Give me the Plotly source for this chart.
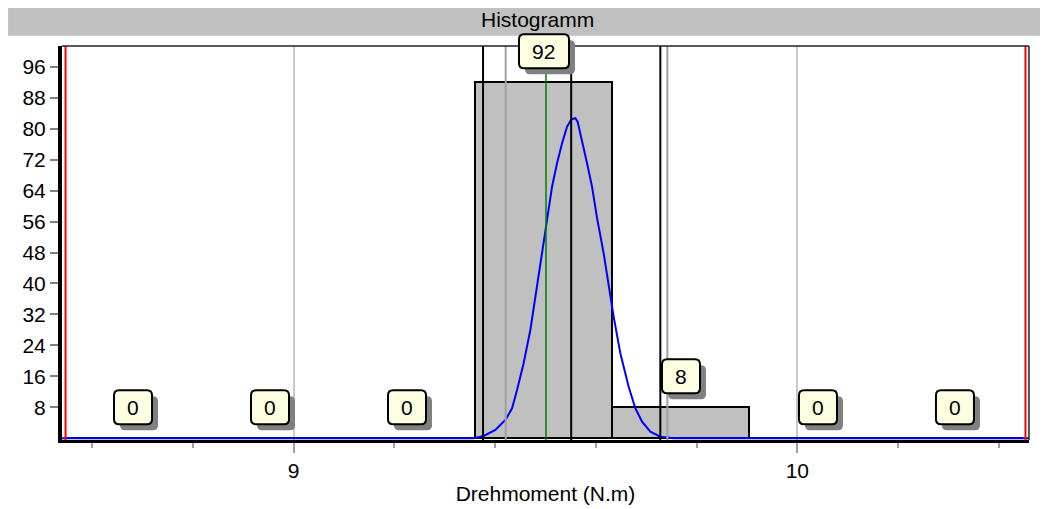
import plotly.graph_objects as go

# ---------------- data ----------------
title_text = "Histogramm"
x_title = "Drehmoment (N.m)"

bin_edges = [8.545, 8.817, 9.089, 9.361, 9.633, 9.905, 10.177, 10.449]
counts = [0, 0, 0, 92, 8, 0, 0]

y_tickvals = [8, 16, 24, 32, 40, 48, 56, 64, 72, 80, 88, 96]
x_tickvals = [9, 10]
x_ticktext = ["9", "10"]
x_minor_tickvals = [8.6, 8.8, 9.2, 9.4, 9.6, 9.8, 10.2, 10.4]

x_range = [8.54, 10.46]
y_range = [-0.44, 101.36]

# reference lines
spec_limits = [8.547, 10.453]          # red
sigma_lines = [9.376, 9.551, 9.728]    # black (mean and +/-3s)
control_lines = [9.421, 9.742]         # gray
target_line = 9.501                    # green

# fitted curve points
curve_x = [8.54, 9.3574, 9.3772, 9.4004, 9.4203, 9.4336, 9.4435, 9.4566, 9.4699,
           9.4832, 9.4932, 9.5031, 9.5130, 9.5229, 9.5329, 9.5428, 9.5513, 9.5593,
           9.5638, 9.5726, 9.5825, 9.5924, 9.6024, 9.6155, 9.6288, 9.6353, 9.6486,
           9.6651, 9.6784, 9.6917, 9.7082, 9.7281, 9.7544, 10.46]
curve_y = [0, 0, 0.59, 2.14, 4.73, 7.75, 12.48, 19.38, 27.98,
           39.17, 46.93, 56.41, 65.01, 71.06, 76.23, 80.52, 82.43, 82.69,
           81.81, 77.08, 71.06, 65.01, 56.9, 47.80, 36.59, 31.42, 21.96,
           13.33, 7.75, 4.29, 1.71, 0.41, 0, 0]

label_offset = 8
# ---------------------------------------------------------------

centers = [(bin_edges[i] + bin_edges[i + 1]) / 2 for i in range(len(counts))]
widths = [bin_edges[i + 1] - bin_edges[i] for i in range(len(counts))]

FONT = "Liberation Sans, Arial, sans-serif"
FS = 21


def to_paper_x(v):
    return (v - x_range[0]) / (x_range[1] - x_range[0])


def to_paper_y(v):
    return (v - y_range[0]) / (y_range[1] - y_range[0])


fig = go.Figure()
fig.add_trace(go.Bar(
    x=centers, y=counts, width=widths,
    marker=dict(color="#c0c0c0", line=dict(color="black", width=2)),
    hoverinfo="skip", showlegend=False,
))
fig.add_trace(go.Scatter(
    x=curve_x, y=curve_y, mode="lines",
    line=dict(color="#0000ff", width=2),
    hoverinfo="skip", showlegend=False,
))

shapes = []
def vline(x, color, width):
    shapes.append(dict(type="line", xref="x", yref="paper", x0=x, x1=x, y0=0, y1=1,
                       line=dict(color=color, width=width), layer="above"))

for v in control_lines:
    vline(v, "#a0a0a0", 2)
for v in sigma_lines:
    vline(v, "#000000", 2)
vline(target_line, "#008000", 1.5)
for v in spec_limits:
    vline(v, "#ff0000", 2)

# title bar
shapes.append(dict(type="rect", xref="paper", yref="paper",
                   x0=-0.0558, x1=1.0196, y0=1.0262, y1=1.11,
                   fillcolor="#c0c0c0", line=dict(width=0), layer="below"))
# top and right frame
shapes.append(dict(type="line", xref="paper", yref="paper", x0=0, x1=1, y0=1, y1=1,
                   line=dict(color="#222222", width=1.5), layer="above"))
shapes.append(dict(type="line", xref="paper", yref="paper", x0=1, x1=1, y0=0, y1=1,
                   line=dict(color="#222222", width=1.5), layer="above"))


def rounded_path(hw, hh, r, dx=0, dy=0):
    l, rr, b, t = -hw + dx, hw + dx, -hh + dy, hh + dy
    return (f"M {l + r},{b} L {rr - r},{b} Q {rr},{b} {rr},{b + r} "
            f"L {rr},{t - r} Q {rr},{t} {rr - r},{t} L {l + r},{t} "
            f"Q {l},{t} {l},{t - r} L {l},{b + r} Q {l},{b} {l + r},{b} Z")


annotations = []
for c, n in zip(centers, counts):
    txt = str(n)
    hw = (26 + 12 * len(txt)) / 2
    hh = 17
    common = dict(type="path", xref="paper", yref="paper", xsizemode="pixel", ysizemode="pixel",
                  xanchor=to_paper_x(c), yanchor=to_paper_y(n + label_offset), layer="above")
    shapes.append(dict(common, path=rounded_path(hw, hh, 5, 6, -6),
                       fillcolor="#808080", line=dict(width=0)))
    shapes.append(dict(common, path=rounded_path(hw, hh, 5),
                       fillcolor="#ffffe1", line=dict(color="black", width=2)))
    annotations.append(dict(x=c, y=n + label_offset, xref="x", yref="y", text=txt,
                            showarrow=False, font=dict(family=FONT, size=FS, color="black"),
                            xanchor="center", yanchor="middle"))

annotations.append(dict(x=0.4922, y=1.066, xref="paper", yref="paper", text=title_text,
                        showarrow=False, font=dict(family=FONT, size=FS, color="black"),
                        xanchor="center", yanchor="middle"))

fig.update_layout(
    width=1040, height=501,
    margin=dict(l=54, r=19, t=38, b=69, autoexpand=False),
    paper_bgcolor="white", plot_bgcolor="white",
    font=dict(family=FONT, size=FS, color="black"),
    bargap=0,
    shapes=shapes,
    annotations=annotations,
    xaxis=dict(
        range=x_range, tickmode="array", tickvals=x_tickvals, ticktext=x_ticktext,
        showgrid=True, gridcolor="#c8c8c8", gridwidth=2,
        ticks="outside", ticklen=10, tickcolor="#a0a0a0", tickwidth=1.5,
        showline=True, linecolor="black", linewidth=3,
        zeroline=False, automargin=False,
        tickfont=dict(family=FONT, size=FS, color="black"),
        title=dict(text=x_title, font=dict(family=FONT, size=FS, color="black"), standoff=6),
        minor=dict(tickvals=x_minor_tickvals, ticks="outside", ticklen=5,
                   tickcolor="#a0a0a0", tickwidth=1.5, showgrid=False),
    ),
    yaxis=dict(
        range=y_range, tickmode="array", tickvals=y_tickvals,
        showgrid=False, zeroline=False, automargin=False,
        ticks="outside", ticklen=8, tickcolor="#808080", tickwidth=1.5,
        showline=True, linecolor="black", linewidth=4,
        tickfont=dict(family=FONT, size=FS, color="black"),
    ),
)

fig.write_html("out.html")
